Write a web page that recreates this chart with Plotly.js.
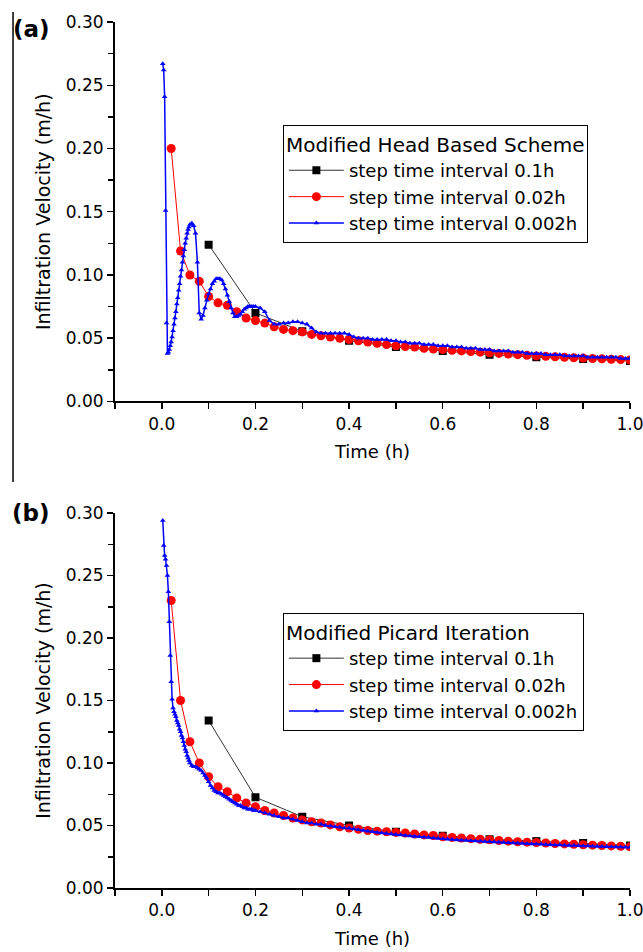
<!DOCTYPE html>
<html>
<head>
<meta charset="utf-8">
<script src="https://cdn.plot.ly/plotly-3.0.1.min.js"></script>
<style>html,body{margin:0;padding:0;background:#fff;}#chart{width:643px;height:952px;}</style>
</head>
<body>
<div id="chart"></div>
<script>
// ---------- DATA ----------
const seriesNames = ["step time interval 0.1h", "step time interval 0.02h", "step time interval 0.002h"];
const legendTitleA = "Modified Head Based Scheme";
const legendTitleB = "Modified Picard Iteration";
const panelLabels = ["(a)", "(b)"];
const xTitle = "Time (h)";
const yTitle = "Infiltration Velocity (m/h)";

const timeCoarse = [0.1,0.2,0.3,0.4,0.5,0.6,0.7,0.8,0.9,1.0];
const timeMid = [0.02,0.04,0.06,0.08,0.10,0.12,0.14,0.16,0.18,0.20,
  0.22,0.24,0.26,0.28,0.30,0.32,0.34,0.36,0.38,0.40,
  0.42,0.44,0.46,0.48,0.50,0.52,0.54,0.56,0.58,0.60,
  0.62,0.64,0.66,0.68,0.70,0.72,0.74,0.76,0.78,0.80,
  0.82,0.84,0.86,0.88,0.90,0.92,0.94,0.96,0.98,1.00];
const timeFine = [0.002,0.004,0.006,0.008,0.010,0.012,0.014,0.016,0.018,0.020,
  0.022,0.024,0.026,0.028,0.030,0.032,0.034,0.036,0.038,0.040,
  0.042,0.044,0.046,0.048,0.050,0.052,0.054,0.056,0.058,0.060,
  0.064,0.068,0.072,0.076,0.080,0.084,0.088,0.092,0.096,0.100,
  0.104,0.108,0.112,0.116,0.120,0.124,0.128,0.132,0.136,0.140,
  0.144,0.148,0.152,0.156,0.160,0.164,0.168,0.172,0.176,0.180,
  0.184,0.188,0.192,0.196,0.200,
  0.21,0.22,0.23,0.24,0.25,0.26,0.27,0.28,0.29,0.30,
  0.31,0.32,0.33,0.34,0.35,0.36,0.37,0.38,0.39,0.40,
  0.41,0.42,0.43,0.44,0.45,0.46,0.47,0.48,0.49,0.50,
  0.51,0.52,0.53,0.54,0.55,0.56,0.57,0.58,0.59,0.60,
  0.61,0.62,0.63,0.64,0.65,0.66,0.67,0.68,0.69,0.70,
  0.71,0.72,0.73,0.74,0.75,0.76,0.77,0.78,0.79,0.80,
  0.81,0.82,0.83,0.84,0.85,0.86,0.87,0.88,0.89,0.90,
  0.91,0.92,0.93,0.94,0.95,0.96,0.97,0.98,0.99,1.00];

// Panel (a): Modified Head Based Scheme
const headCoarse = [0.124,0.070,0.0555,0.048,0.043,0.040,0.037,0.035,0.0336,0.032];
const headMid = [0.200,0.119,0.100,0.095,0.083,0.078,0.076,0.071,0.066,0.064,
  0.062,0.059,0.057,0.056,0.055,0.053,0.052,0.051,0.050,0.049,
  0.048,0.047,0.046,0.045,0.044,0.0435,0.043,0.042,0.0415,0.041,
  0.0405,0.040,0.0395,0.039,0.0385,0.038,0.0375,0.037,0.0365,0.036,
  0.0357,0.0353,0.035,0.0346,0.0343,0.034,0.0337,0.0334,0.0331,0.0328];
const headFine = [0.267,0.262,0.241,0.151,0.062,0.038,0.039,0.041,0.044,0.047,
  0.051,0.056,0.061,0.066,0.071,0.077,0.082,0.088,0.093,0.099,
  0.104,0.110,0.115,0.120,0.125,0.129,0.133,0.136,0.138,0.140,
  0.141,0.139,0.133,0.110,0.070,0.065,0.068,0.074,0.080,0.085,
  0.089,0.093,0.095,0.097,0.097,0.097,0.096,0.093,0.089,0.084,
  0.079,0.074,0.070,0.067,0.067,0.068,0.069,0.071,0.073,0.074,
  0.075,0.075,0.075,0.075,0.075,
  0.074,0.071,0.064,0.061,0.061,0.062,0.062,0.063,0.063,0.062,
  0.061,0.058,0.055,0.054,0.054,0.054,0.054,0.054,0.054,0.053,
  0.051,0.050,0.050,0.050,0.049,0.049,0.049,0.049,0.048,0.048,
  0.047,0.047,0.046,0.046,0.046,0.045,0.045,0.045,0.044,0.044,
  0.044,0.043,0.043,0.043,0.042,0.042,0.042,0.041,0.041,0.041,
  0.040,0.040,0.040,0.040,0.039,0.039,0.039,0.038,0.038,0.038,
  0.038,0.037,0.037,0.037,0.037,0.036,0.036,0.036,0.036,0.036,
  0.035,0.035,0.035,0.035,0.035,0.035,0.035,0.034,0.034,0.034];

// Panel (b): Modified Picard Iteration
const picardCoarse = [0.134,0.0726,0.057,0.050,0.045,0.0418,0.039,0.0375,0.036,0.034];
const picardMid = [0.230,0.150,0.117,0.100,0.089,0.081,0.077,0.072,0.068,0.065,
  0.062,0.060,0.058,0.056,0.0545,0.053,0.052,0.0505,0.049,0.048,
  0.047,0.046,0.0455,0.045,0.0445,0.044,0.0432,0.0425,0.042,0.041,
  0.0405,0.040,0.0395,0.039,0.0386,0.038,0.0375,0.037,0.0367,0.0364,
  0.036,0.0356,0.0353,0.035,0.0346,0.0343,0.034,0.0337,0.0334,0.033];
const picardFine = [0.294,0.274,0.266,0.263,0.258,0.250,0.237,0.213,0.186,0.165,
  0.151,0.144,0.141,0.139,0.137,0.134,0.132,0.130,0.127,0.125,
  0.122,0.120,0.117,0.114,0.111,0.109,0.106,0.104,0.102,0.100,
  0.098,0.097,0.097,0.096,0.095,0.094,0.092,0.090,0.088,0.085,
  0.082,0.080,0.078,0.077,0.076,0.076,0.075,0.074,0.073,0.072,
  0.071,0.070,0.069,0.068,0.067,0.066,0.066,0.065,0.064,0.064,
  0.063,0.063,0.063,0.062,0.062,
  0.061,0.060,0.059,0.058,0.057,0.056,0.056,0.055,0.054,0.053,
  0.052,0.052,0.051,0.051,0.050,0.0497,0.049,0.0487,0.048,0.0478,
  0.0472,0.0466,0.046,0.0455,0.045,0.0445,0.044,0.0436,0.0432,0.0428,
  0.0425,0.042,0.0417,0.0413,0.041,0.0407,0.0404,0.040,0.0397,0.0394,
  0.0391,0.0388,0.0385,0.0383,0.038,0.0378,0.0376,0.0374,0.0372,0.037,
  0.0368,0.0366,0.0364,0.0362,0.036,0.0358,0.0356,0.0355,0.0353,0.0352,
  0.035,0.0348,0.0347,0.0345,0.0344,0.0342,0.0341,0.034,0.0338,0.0337,
  0.0336,0.0334,0.0333,0.0332,0.0331,0.033,0.0329,0.0328,0.0327,0.0326];

const xTickVals = [0.0,0.2,0.4,0.6,0.8,1.0];
const yTickVals = [0.00,0.05,0.10,0.15,0.20,0.25,0.30];

// ---------- STYLE ----------
const FONT = "DejaVu Sans, Arial, sans-serif";
const colors = ["#1a1a1a", "#ff0000", "#0000ff"];

function makeTraces(xa, ya, leg, coarse, mid, fine) {
  return [
    {x: timeCoarse, y: coarse, xaxis: xa, yaxis: ya, legend: leg, name: seriesNames[0],
     mode: "lines+markers", line: {color: "#333333", width: 1},
     marker: {symbol: "square", size: 8, color: "#000"}},
    {x: timeMid, y: mid, xaxis: xa, yaxis: ya, legend: leg, name: seriesNames[1],
     mode: "lines+markers", line: {color: colors[1], width: 1},
     marker: {symbol: "circle", size: 9, color: colors[1]}},
    {x: timeFine, y: fine, xaxis: xa, yaxis: ya, legend: leg, name: seriesNames[2],
     mode: "lines+markers", line: {color: colors[2], width: 1.5},
     marker: {symbol: "triangle-up", size: 5, color: colors[2]}}
  ];
}

const traces = [].concat(
  makeTraces("x", "y", "legend", headCoarse, headMid, headFine),
  makeTraces("x2", "y2", "legend2", picardCoarse, picardMid, picardFine)
);

function xBottom(anchor) {
  return {anchor: anchor, range: [-0.1, 1.0], showline: true, linewidth: 2, linecolor: "#000",
    ticks: "outside", ticklen: 6, tickwidth: 1.5, tickcolor: "#000",
    tickvals: xTickVals, tickformat: ".1f", ticklabeloverflow: "allow",
    minor: {ticks: "outside", dtick: 0.1, tick0: -0.1, ticklen: 6, tickwidth: 1.5, tickcolor: "#000"},
    showgrid: false, zeroline: false, tickfont: {size: 17},
    title: {text: xTitle, font: {size: 18}, standoff: 13}};
}
function yLeft(anchor, domain) {
  return {anchor: anchor, domain: domain, range: [0, 0.3], showline: true, linewidth: 2, linecolor: "#000",
    ticks: "outside", ticklen: 6, tickwidth: 1.5, tickcolor: "#000",
    tickvals: yTickVals, tickformat: ".2f",
    minor: {ticks: "outside", dtick: 0.025, tick0: 0, ticklen: 5, tickwidth: 1.5, tickcolor: "#000"},
    showgrid: false, zeroline: false, tickfont: {size: 17},
    title: {text: yTitle, font: {size: 19}, standoff: 10}};
}
function xTop(over, anchor) {
  return {overlaying: over, anchor: anchor, side: "top", range: [-0.1, 1.0], showline: true, linewidth: 2,
    linecolor: "#000", ticks: "inside", ticklen: 6, tickwidth: 1.5, tickcolor: "#000",
    tickvals: xTickVals, showticklabels: false,
    minor: {ticks: "inside", dtick: 0.1, tick0: -0.1, ticklen: 6, tickwidth: 1.5, tickcolor: "#000"},
    showgrid: false, zeroline: false};
}
function yRight(over, anchor) {
  return {overlaying: over, anchor: anchor, side: "right", range: [0, 0.3], showline: true, linewidth: 2,
    linecolor: "#000", ticks: "inside", ticklen: 6, tickwidth: 1.5, tickcolor: "#000",
    tickvals: yTickVals, showticklabels: false,
    minor: {ticks: "inside", dtick: 0.025, tick0: 0, ticklen: 5, tickwidth: 1.5, tickcolor: "#000"},
    showgrid: false, zeroline: false};
}
function legendBox(yPos, title) {
  return {x: 0.326, y: yPos, xanchor: "left", yanchor: "top", bgcolor: "#fff",
    bordercolor: "#000", borderwidth: 1, font: {size: 18, color: "#000"},
    title: {text: title, font: {size: 20, color: "#000"}}, itemwidth: 55, tracegroupgap: 0};
}

const layout = {
  width: 643, height: 952,
  margin: {l: 115, r: 13, t: 22, b: 64},
  paper_bgcolor: "#fff", plot_bgcolor: "#fff",
  font: {family: FONT, size: 17, color: "#000"},
  showlegend: true,
  xaxis: xBottom("y"),
  yaxis: yLeft("x", [0.5618, 1]),
  xaxis2: xBottom("y2"),
  yaxis2: yLeft("x2", [0, 0.433]),
  xaxis3: xTop("x", "y"),
  yaxis3: yRight("y", "x"),
  xaxis4: xTop("x2", "y2"),
  yaxis4: yRight("y2", "x2"),
  legend: legendBox(0.881, legendTitleA),
  legend2: legendBox(0.3176, legendTitleB),
  annotations: [
    {text: "<b>" + panelLabels[0] + "</b>", xref: "paper", yref: "paper", x: -0.163, y: 0.9919,
     xanchor: "center", yanchor: "middle", showarrow: false, font: {size: 23, color: "#000"}},
    {text: "<b>" + panelLabels[1] + "</b>", xref: "paper", yref: "paper", x: -0.163, y: 0.433,
     xanchor: "center", yanchor: "middle", showarrow: false, font: {size: 23, color: "#000"}}
  ],
  shapes: [
    {type: "line", xref: "paper", yref: "paper", x0: -0.198, x1: -0.198, y0: 1.0115, y1: 0.4688,
     line: {color: "#000", width: 1.5}}
  ]
};

Plotly.newPlot("chart", traces, layout, {displayModeBar: false, staticPlot: true});
</script>
</body>
</html>
